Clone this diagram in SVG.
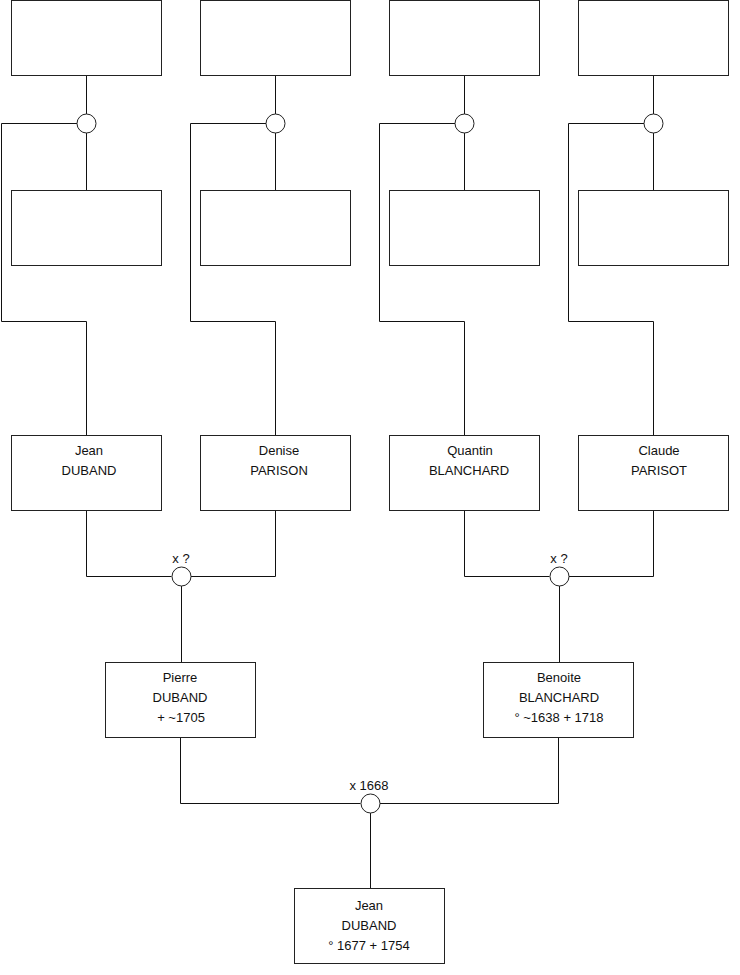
<svg xmlns="http://www.w3.org/2000/svg" width="740" height="975" viewBox="0 0 740 975">
<style>
.box{fill:#fff;stroke:#222;stroke-width:1}
.cir{fill:#fff;stroke:#222;stroke-width:1}
.ln{fill:none;stroke:#111;stroke-width:1}
text{font-family:"Liberation Sans",Arial,sans-serif;font-size:13px;fill:#111;text-anchor:middle}
</style>
<rect width="740" height="975" fill="#fff"/>
<g id="connectors">
<path class="ln" d="M86.5 75.5V114M86.5 132V190.5M77 123.5H1.5V321.5H86.5V435.5"/>
<path class="ln" d="M275.5 75.5V114M275.5 132V190.5M266 123.5H190.5V321.5H275.5V435.5"/>
<path class="ln" d="M464.5 75.5V114M464.5 132V190.5M455 123.5H379.5V321.5H464.5V435.5"/>
<path class="ln" d="M653.5 75.5V114M653.5 132V190.5M644 123.5H568.5V321.5H653.5V435.5"/>
<path class="ln" d="M86.5 510.5V576.5H171.5M275.5 510.5V576.5H190.5M181.5 586V662.5"/>
<path class="ln" d="M464.5 510.5V576.5H549.5M653.5 510.5V576.5H568.5M559.5 586V662.5"/>
<path class="ln" d="M180.5 737.5V803.5H360.5M558.5 737.5V803.5H379.5M370.5 813V888.5"/>
</g>
<g id="u1"><circle class="cir" cx="86.5" cy="123.5" r="9.5"/></g>
<g id="u2"><circle class="cir" cx="275.5" cy="123.5" r="9.5"/></g>
<g id="u3"><circle class="cir" cx="464.5" cy="123.5" r="9.5"/></g>
<g id="u4"><circle class="cir" cx="653.5" cy="123.5" r="9.5"/></g>
<g id="p1"><rect class="box" x="11.5" y="0.5" width="150" height="75"/></g>
<g id="p2"><rect class="box" x="200.5" y="0.5" width="150" height="75"/></g>
<g id="p3"><rect class="box" x="389.5" y="0.5" width="150" height="75"/></g>
<g id="p4"><rect class="box" x="578.5" y="0.5" width="150" height="75"/></g>
<g id="m1"><rect class="box" x="11.5" y="190.5" width="150" height="75"/></g>
<g id="m2"><rect class="box" x="200.5" y="190.5" width="150" height="75"/></g>
<g id="m3"><rect class="box" x="389.5" y="190.5" width="150" height="75"/></g>
<g id="m4"><rect class="box" x="578.5" y="190.5" width="150" height="75"/></g>
<g id="jean1"><rect class="box" x="11.5" y="435.5" width="150" height="75"/><text x="89" y="455">Jean</text><text x="89" y="475">DUBAND</text></g>
<g id="denise"><rect class="box" x="200.5" y="435.5" width="150" height="75"/><text x="279" y="455">Denise</text><text x="279" y="475">PARISON</text></g>
<g id="quantin"><rect class="box" x="389.5" y="435.5" width="150" height="75"/><text x="470" y="455">Quantin</text><text x="469" y="475">BLANCHARD</text></g>
<g id="claude"><rect class="box" x="578.5" y="435.5" width="150" height="75"/><text x="659" y="455">Claude</text><text x="659" y="475">PARISOT</text></g>
<g id="u5"><circle class="cir" cx="181.5" cy="576.5" r="9.5"/><text x="181" y="563">x ?</text></g>
<g id="u6"><circle class="cir" cx="559.5" cy="576.5" r="9.5"/><text x="559" y="563">x ?</text></g>
<g id="pierre"><rect class="box" x="105.5" y="662.5" width="150" height="75"/><text x="180" y="682">Pierre</text><text x="180" y="702">DUBAND</text><text x="181" y="722">+ ~1705</text></g>
<g id="benoite"><rect class="box" x="483.5" y="662.5" width="150" height="75"/><text x="559" y="682">Benoite</text><text x="559" y="702">BLANCHARD</text><text x="559" y="722">° ~1638 + 1718</text></g>
<g id="u7"><circle class="cir" cx="370.5" cy="803.5" r="9.5"/><text x="369" y="790">x 1668</text></g>
<g id="jean2"><rect class="box" x="294.5" y="888.5" width="150" height="75"/><text x="369" y="910">Jean</text><text x="369" y="930">DUBAND</text><text x="369" y="950">° 1677 + 1754</text></g>
</svg>
